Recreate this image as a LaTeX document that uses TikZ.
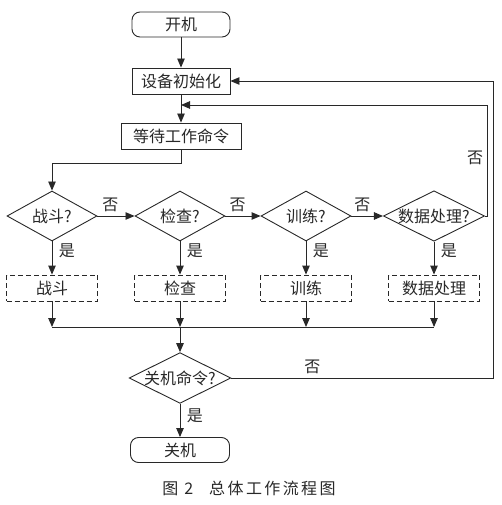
\documentclass[tikz,border=0pt]{standalone}
\usepackage{fontspec}
\setmainfont{Noto Sans CJK SC}
\newfontfamily\capfont[LetterSpace=15]{Noto Sans CJK SC}
\usetikzlibrary{shapes.geometric,arrows.meta}
\definecolor{ink}{RGB}{40,40,40}

\begin{document}
\begin{tikzpicture}[x=1pt, y=-1pt, color=ink, line width=0.9pt,
    every node/.style = {font=\fontsize{16}{18}\selectfont},
    term/.style = {draw, rounded corners=8pt, minimum width=98pt, minimum height=25pt},
    proc/.style = {draw, minimum width=98pt, minimum height=26pt},
    task/.style = {draw, dash pattern=on 5pt off 3pt, minimum width=91pt, minimum height=26pt},
    cond/.style = {draw, diamond, aspect=2, inner sep=0pt, minimum width=90pt, minimum height=50pt},
    yes/.style = {right, xshift=3pt},
    arr/.style = {-{Triangle[length=9pt,width=7.5pt]}}]
    \useasboundingbox (0,0) rectangle (502,505);
            \node[term] (start) at (181,24.5) {开机};
            \node[proc] (init) at (181,81) {设备初始化};
            \node[proc, minimum width=120pt] (wait) at (181,136) {等待工作命令};
            \node[cond] (c1) at (52,216) {战斗?};
            \node[cond] (c2) at (180,216) {检查?};
            \node[cond] (c3) at (306,216) {训练?};
            \node[cond] (c4) at (434,216) {数据处理?};
            \node[task] (t1) at (52,288) {战斗};
            \node[task] (t2) at (180,288) {检查};
            \node[task] (t3) at (306,288) {训练};
            \node[task] (t4) at (434,288) {数据处理};
            \node[cond] (off) at (180,378) {关机命令?};
            \node[term, minimum width=99pt] (stop) at (180,450) {关机};
            \node (cap) at (249,488) {\capfont\fontsize{16}{18}\selectfont 图 2\quad 总体工作流程图};
            \coordinate (j0) at (181,163);
            \coordinate (j1) at (181,105);
            \coordinate (m1) at (52,327);
            \coordinate (m2) at (180,327);
            \coordinate (m3) at (306,327);
            \coordinate (m4) at (434,327);
            \coordinate (r1) at (493,378);
            \coordinate (r2) at (487,216);
            \draw[arr] (start) -- (init);
            \draw[arr] (init) -- (wait);
            \draw[arr] (wait) -- (j0) -| (c1);
            \draw[arr] (c1) -- node[above, pos=0.35] {否} (c2);
            \draw[arr] (c2) -- node[above, pos=0.35] {否} (c3);
            \draw[arr] (c3) -- node[above, pos=0.35] {否} (c4);
            \draw[arr] (c1) -- node[yes, pos=0.27] {是} (t1);
            \draw[arr] (c2) -- node[yes, pos=0.27] {是} (t2);
            \draw[arr] (c3) -- node[yes, pos=0.27] {是} (t3);
            \draw[arr] (c4) -- node[yes, pos=0.27] {是} (t4);
            \draw[arr] (t1) -- (m1);
            \draw[arr] (t2) -- (m2);
            \draw[arr] (t3) -- (m3);
            \draw[arr] (t4) -- (m4);
            \draw (m1) -- (m4);
            \draw[arr] (m2) -- (off);
            \draw[arr] (off) -- node[yes, pos=0.35] {是} (stop);
            \draw[arr] (off) -- node[above, pos=0.31] {否} (r1) |- (init);
            \draw[arr] (c4) -- (r2) |- node[left, pos=0.26] {否} (j1);
\end{tikzpicture}
\end{document}
